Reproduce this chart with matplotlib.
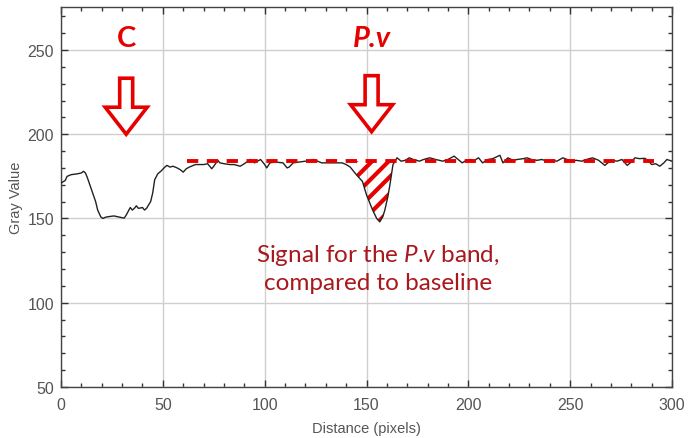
import matplotlib
matplotlib.use("Agg")
import matplotlib.pyplot as plt
import numpy as np
from matplotlib.patches import Polygon
from matplotlib.transforms import IdentityTransform
from matplotlib.ticker import MultipleLocator

# ---- data ----
distance = [0, 2, 3, 5, 8, 10, 11, 12, 13, 15, 17, 18, 19.5, 20.5, 22, 24, 26, 28, 30, 31,
            32, 34, 35, 36, 37, 38, 40, 41, 42, 44, 45, 46, 47.5, 49, 51, 52, 53.5, 55, 57,
            58.5, 60, 61.5, 63, 65, 66, 68, 70, 72, 74, 75, 77, 78, 80, 83, 85, 88, 90, 93,
            95, 98, 100, 101, 102.6, 105, 109, 111, 112, 114, 117, 120, 122, 124, 126, 128,
            131, 135, 138, 140, 142, 145, 148, 150, 153, 155, 156.5, 158, 159, 160.5, 161.5,
            163, 165, 167, 169, 171, 173, 176, 178, 181, 184, 187.5, 190, 193, 195, 197, 199,
            201, 203, 205, 207, 209.6, 212, 215.5, 217, 219.4, 222, 224, 227, 228.8, 231,
            233.7, 236, 239, 241, 243.5, 246.4, 248.5, 250.9, 253, 255.8, 258, 261, 264, 267,
            268.5, 270.5, 273, 275.4, 278, 280, 281.8, 284, 286.7, 288.5, 290, 292, 294, 296,
            297.5, 300]
gray_value = [171, 172.5, 175, 176, 176.5, 177, 178, 177, 174, 167, 160, 155, 151, 150, 150.8,
              151.2, 151.5, 151, 150.5, 150.2, 152, 156.5, 155, 156, 157.5, 156, 156.5, 155,
              156, 160, 165, 173, 176.5, 178, 180.5, 181.5, 180.5, 181, 180, 179, 177.5, 179.5,
              180.5, 181.5, 182, 182, 182, 182.5, 179.5, 181, 184.5, 183, 182.5, 182, 182, 181,
              182.5, 185, 183, 185, 182, 180, 183, 183.5, 183, 180, 180.5, 183, 183.5, 184, 184,
              185, 184, 183, 183, 183, 183, 182, 180.5, 176, 172, 164, 155, 150, 148, 151, 155,
              163, 170, 182, 186, 184, 184.5, 186, 185, 184, 185, 186, 185, 184, 185, 187, 185,
              183, 184.5, 185, 184.5, 186, 183, 185, 185.5, 187.5, 183, 186, 184.5, 185, 185.5,
              186, 185, 184.5, 185, 184, 184.5, 184, 186, 185, 184, 184.5, 184, 185, 186, 184.5,
              181.5, 183, 184.5, 184, 185, 181.5, 183.5, 186, 185.5, 185.7, 184, 182, 182.5, 181,
              183, 185, 184]

baseline_value = 184
baseline_range = [62, 291]
band_range = [143, 164]

x_ticks = [0, 50, 100, 150, 200, 250, 300]
y_ticks = [50, 100, 150, 200, 250]

labels = ["C", "P.v"]
label_x = [32, 152.5]
label_y = [257, 257]
arrow_tip_y = [200, 201.5]

RED = "#e60000"
DARKRED = "#a8181c"

plt.rcParams["hatch.linewidth"] = 3.0
plt.rcParams["mathtext.fontset"] = "custom"
plt.rcParams["mathtext.rm"] = "Lato"
plt.rcParams["mathtext.it"] = "Lato:italic"

fig = plt.figure(figsize=(6.91, 4.39), dpi=100)
ax = fig.add_axes([0.0883, 0.1162, 0.8842, 0.8656])

x = np.array(distance)
y = np.array(gray_value)

ax.set_xlim(0, 300)
ax.set_ylim(50, 275.5)

ax.grid(True, which="major", color="#cfcfcf", linewidth=1.0)
ax.set_axisbelow(True)

# hatched band region
sel = (x >= band_range[0]) & (x <= band_range[1])
ax.fill_between(x[sel], y[sel], baseline_value, where=y[sel] < baseline_value,
                interpolate=True, facecolor="none", edgecolor=RED, hatch="//",
                linewidth=0, zorder=2)

ax.plot(x, y, color="#222222", linewidth=1.0, zorder=3)
ax.plot(baseline_range, [baseline_value, baseline_value], color=RED, linewidth=2.8,
        dashes=(2.9, 2.2), zorder=4)

ax.set_xticks(x_ticks)
ax.set_yticks(y_ticks)
ax.xaxis.set_minor_locator(MultipleLocator(10))
ax.yaxis.set_minor_locator(MultipleLocator(10))
ax.tick_params(which="both", direction="in", top=True, right=True, color="#333333",
               labelcolor="#555555", labelsize=11.5)
ax.tick_params(which="major", length=5, width=1.0)
ax.tick_params(which="minor", length=3, width=1.0)
ax.tick_params(axis="x", pad=7)
ax.tick_params(axis="y", pad=5)
for lab in ax.get_xticklabels() + ax.get_yticklabels():
    lab.set_family("Liberation Sans")
for sp in ax.spines.values():
    sp.set_color("#444444")
    sp.set_linewidth(1.0)

ax.set_xlabel("Distance (pixels)", family="Liberation Sans", fontsize=10.5,
              color="#555555", labelpad=7)
ax.set_ylabel("Gray Value", family="Liberation Sans", fontsize=10.5,
              color="#555555", labelpad=3)

# big labels
ax.text(label_x[0], label_y[0], labels[0], color=RED, fontsize=21, fontweight="bold",
        family="Lato", ha="center", va="center")
ax.text(label_x[1], label_y[1], labels[1], color=RED, fontsize=21, fontweight="bold",
        fontstyle="italic", family="Lato", ha="center", va="center")

# hollow block arrows (pixel geometry relative to the tip)
fig.canvas.draw()
shape = np.array([[0, 0], [-21, 27], [-6.5, 27], [-6.5, 56], [6.5, 56], [6.5, 27], [21, 27]])
for lx, ty in zip(label_x, arrow_tip_y):
    tip = ax.transData.transform((lx, ty))
    verts = shape + tip
    ax.add_patch(Polygon(verts, closed=True, facecolor="white", edgecolor=RED,
                         linewidth=2.6, transform=IdentityTransform(), zorder=5,
                         joinstyle="miter"))

ax.text(155.5, 121, "Signal for the $\\mathit{P}$.$\\mathit{v}$ band,\ncompared to baseline",
        color=DARKRED, fontsize=17.5, family="Lato", ha="center", va="center",
        linespacing=1.3)

fig.savefig("out.png", dpi=100)
